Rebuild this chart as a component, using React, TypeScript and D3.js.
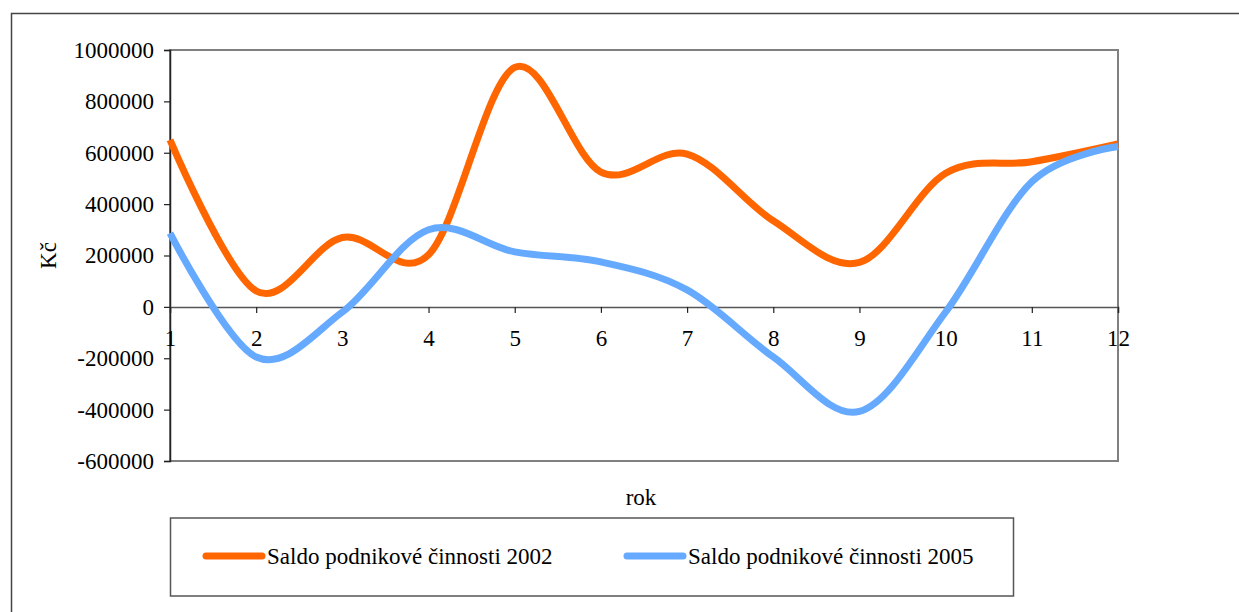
//@ts-nocheck
import { useEffect, useRef } from 'react';
import * as d3 from 'd3';

// chart data
const years = [1, 2, 3, 4, 5, 6, 7, 8, 9, 10, 11, 12];
const saldo2002 = [650000, 62000, 270000, 203000, 932000, 525000, 595000, 335000, 173000, 520000, 565000, 634000];
const saldo2005 = [287000, -195000, -20000, 300000, 214000, 175000, 66000, -195000, -407000, -20000, 487000, 624000];
const yTicks = [-600000, -400000, -200000, 0, 200000, 400000, 600000, 800000, 1000000];
const seriesNames = ['Saldo podnikové činnosti 2002', 'Saldo podnikové činnosti 2005'];
const seriesColors = ['#FF6600', '#66AAFF'];

const W = 1239;
const H = 612;
const FONT = 'Liberation Serif, DejaVu Serif, Times, serif';
const FS = 23;

const App = () => {
    const svgRef = useRef();

    useEffect(() => {
        const svg = d3.select(svgRef.current);
        svg.selectAll('*').remove();

        const left = 170, right = 1118, top = 50, bottom = 461;

        const x = d3.scaleLinear().domain([1, 12]).range([left, right]);
        const y = d3.scaleLinear().domain([-600000, 1000000]).range([bottom, top]);

        // outer frame (right / bottom edges fall outside the picture)
        svg.append('rect')
            .attr('x', 11.5).attr('y', 13.5)
            .attr('width', 1400).attr('height', 700)
            .attr('fill', 'none').attr('stroke', '#444').attr('stroke-width', 1.5);

        // plot area border
        svg.append('rect')
            .attr('x', left).attr('y', top)
            .attr('width', right - left).attr('height', bottom - top)
            .attr('fill', 'white').attr('stroke', '#808080').attr('stroke-width', 2);

        // y axis
        const yAxis = svg.append('g')
            .attr('transform', `translate(${left},0)`)
            .call(d3.axisLeft(y).tickValues(yTicks).tickSize(6).tickPadding(10).tickFormat(d => String(d)))
            .attr('font-family', FONT)
            .attr('font-size', FS);
        yAxis.select('.domain').attr('stroke', '#222').attr('stroke-width', 1.5);
        yAxis.selectAll('.tick line').attr('stroke', '#222').attr('stroke-width', 1.2);
        yAxis.selectAll('text').attr('fill', '#000');

        // x axis on the zero line
        const xAxis = svg.append('g')
            .attr('transform', `translate(0,${y(0)})`)
            .call(d3.axisBottom(x).tickValues(years).tickSize(6).tickPadding(17).tickFormat(d => String(d)))
            .attr('font-family', FONT)
            .attr('font-size', FS);
        xAxis.select('.domain').attr('stroke', '#555').attr('stroke-width', 1.5);
        xAxis.selectAll('.tick line').attr('stroke', '#222').attr('stroke-width', 1.2);
        xAxis.selectAll('text').attr('fill', '#000');

        // lines (Excel-like smoothing)
        const line = d3.line()
            .x((d, i) => x(years[i]))
            .y(d => y(d))
            .curve(d3.curveCardinal.tension(0));

        [saldo2002, saldo2005].forEach((s, i) => {
            svg.append('path')
                .datum(s)
                .attr('d', line)
                .attr('fill', 'none')
                .attr('stroke', seriesColors[i])
                .attr('stroke-width', 7)
                .attr('stroke-linejoin', 'round');
        });

        // axis titles
        svg.append('text')
            .attr('x', (left + right) / 2 - 3)
            .attr('y', 505)
            .attr('text-anchor', 'middle')
            .attr('font-family', FONT)
            .attr('font-size', FS)
            .text('rok');

        svg.append('text')
            .attr('transform', `translate(56,${(top + bottom) / 2}) rotate(-90)`)
            .attr('text-anchor', 'middle')
            .attr('font-family', FONT)
            .attr('font-size', FS)
            .text('Kč');

        // legend
        const legend = svg.append('g');
        legend.append('rect')
            .attr('x', 170.5).attr('y', 518)
            .attr('width', 843).attr('height', 78)
            .attr('fill', 'white').attr('stroke', '#555').attr('stroke-width', 1.5);

        const legendX = [206, 627];
        seriesNames.forEach((name, i) => {
            legend.append('line')
                .attr('x1', legendX[i]).attr('x2', legendX[i] + 56)
                .attr('y1', 556).attr('y2', 556)
                .attr('stroke', seriesColors[i])
                .attr('stroke-width', 7)
                .attr('stroke-linecap', 'round');
            legend.append('text')
                .attr('x', legendX[i] + 61)
                .attr('y', 564)
                .attr('font-family', FONT)
                .attr('font-size', FS)
                .text(name);
        });
    }, []);

    return (
        <svg ref={svgRef} width={W} height={H}
            style={{ position: 'absolute', left: 0, top: 0, background: 'white' }}></svg>
    );
};

export default App;
